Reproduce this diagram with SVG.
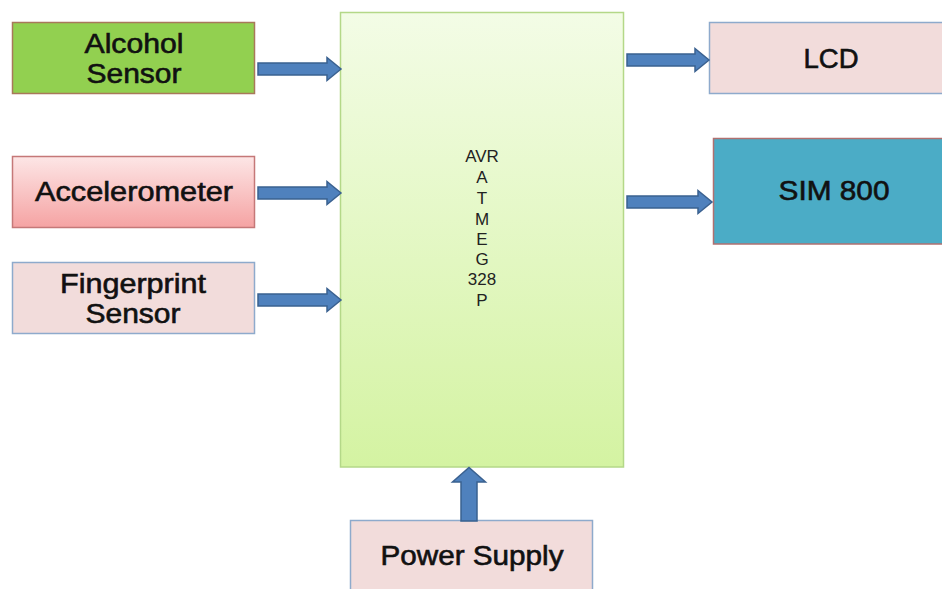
<svg xmlns="http://www.w3.org/2000/svg" width="942" height="589" viewBox="0 0 942 589">
<defs>
<linearGradient id="gMain" x1="0" y1="0" x2="0" y2="1">
<stop offset="0" stop-color="#f3fce6"/>
<stop offset="1" stop-color="#d4f3a2"/>
</linearGradient>
<linearGradient id="gAcc" x1="0" y1="0" x2="0" y2="1">
<stop offset="0" stop-color="#fde6e6"/>
<stop offset="1" stop-color="#f5a3a3"/>
</linearGradient>
<style>
.lbl{font-family:"Liberation Sans",Arial,sans-serif;font-size:27px;fill:#111;stroke:#111;stroke-width:0.6;text-anchor:middle}
.mcu{font-family:"Liberation Sans",Arial,sans-serif;font-size:17px;fill:#222;text-anchor:middle}
.arr{fill:#4f81bd;stroke:#3a6190;stroke-width:1.5;stroke-linejoin:miter}
.pinkBox{fill:#f2dcdb;stroke:#8eaacc;stroke-width:1.5}
</style>
</defs>
<rect width="942" height="589" fill="#ffffff"/>

<g id="mcu">
<rect x="340.5" y="12.5" width="283" height="454.5" fill="url(#gMain)" stroke="#b4d888" stroke-width="1.5"/>
<text class="mcu" x="482" y="162">AVR</text>
<text class="mcu" x="482" y="183">A</text>
<text class="mcu" x="482" y="204">T</text>
<text class="mcu" x="482" y="225">M</text>
<text class="mcu" x="482" y="245">E</text>
<text class="mcu" x="482" y="265">G</text>
<text class="mcu" x="482" y="285">328</text>
<text class="mcu" x="482" y="306">P</text>
</g>

<g id="alcohol">
<rect x="12.5" y="22.5" width="242" height="71" fill="#92d050" stroke="#a8785a" stroke-width="1.5"/>
<text class="lbl" x="134" y="53" textLength="99" lengthAdjust="spacingAndGlyphs">Alcohol</text>
<text class="lbl" x="134" y="83" textLength="95" lengthAdjust="spacingAndGlyphs">Sensor</text>
</g>

<g id="accelerometer">
<rect x="12.5" y="156.5" width="242" height="71" fill="url(#gAcc)" stroke="#c57878" stroke-width="1.5"/>
<text class="lbl" x="134" y="201" textLength="198" lengthAdjust="spacingAndGlyphs">Accelerometer</text>
</g>

<g id="fingerprint">
<rect x="12.5" y="262.5" width="242" height="71" class="pinkBox"/>
<text class="lbl" x="133" y="293" textLength="146" lengthAdjust="spacingAndGlyphs">Fingerprint</text>
<text class="lbl" x="133" y="323" textLength="95" lengthAdjust="spacingAndGlyphs">Sensor</text>
</g>

<g id="lcd">
<rect x="709.5" y="22.5" width="240" height="71" class="pinkBox"/>
<text class="lbl" x="831" y="68" textLength="55" lengthAdjust="spacingAndGlyphs">LCD</text>
</g>

<g id="sim800">
<rect x="713.5" y="138.5" width="236" height="105.5" fill="#4bacc6" stroke="#b07070" stroke-width="1.5"/>
<text class="lbl" x="834" y="200" textLength="111" lengthAdjust="spacingAndGlyphs">SIM 800</text>
</g>

<g id="power">
<rect x="350.5" y="520.5" width="242" height="80" class="pinkBox"/>
<text class="lbl" x="472" y="565" textLength="183" lengthAdjust="spacingAndGlyphs">Power Supply</text>
</g>

<g id="connectors">
<path class="arr" d="M258,63 H327 V57.5 L341,69 L327,80.5 V75 H258 Z"/>
<path class="arr" d="M258,187 H327 V181.5 L341,193 L327,204.5 V199 H258 Z"/>
<path class="arr" d="M258,294 H327 V288.5 L341,300 L327,311.5 V306 H258 Z"/>
<path class="arr" d="M627,54 H695 V48.5 L709,60 L695,71.5 V66 H627 Z"/>
<path class="arr" d="M627,196 H698 V190.5 L712,202 L698,213.5 V208 H627 Z"/>
<path class="arr" d="M461,521 V482 H452.5 L469,467.5 L485.5,482 H477 V521 Z"/>
</g>
</svg>
